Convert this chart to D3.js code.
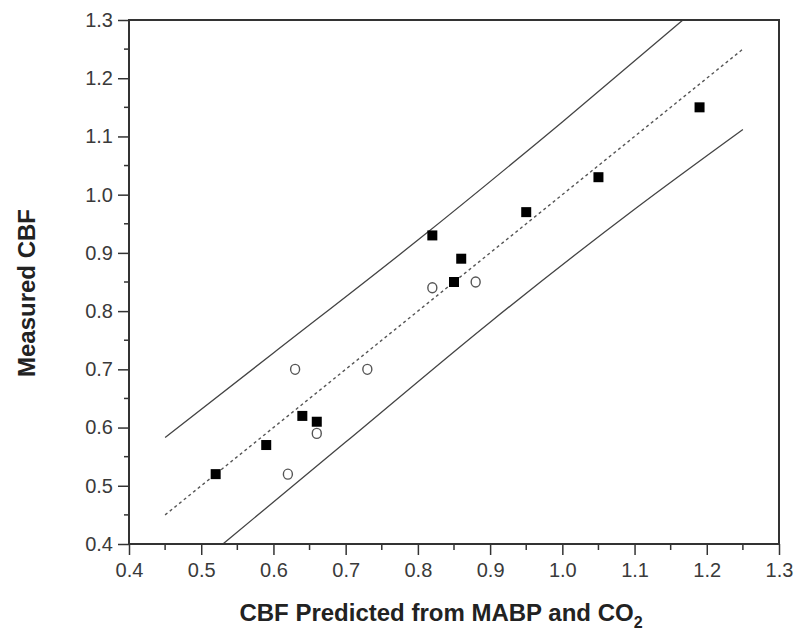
<!DOCTYPE html>
<html>
<head>
<meta charset="utf-8">
<script src="https://cdn.jsdelivr.net/npm/d3@7"></script>
<style>
  body { margin: 0; background: #fff; }
  svg text { font-family: "Liberation Sans", Arial, sans-serif; }
</style>
</head>
<body>
<svg id="chart"></svg>
<script>
// measured vs predicted CBF
const squareX = [0.52, 0.59, 0.64, 0.66, 0.82, 0.85, 0.86, 0.95, 1.05, 1.19];
const squareY = [0.52, 0.57, 0.62, 0.61, 0.93, 0.85, 0.89, 0.97, 1.03, 1.15];
const circleX = [0.62, 0.63, 0.66, 0.73, 0.82, 0.88];
const circleY = [0.52, 0.70, 0.59, 0.70, 0.84, 0.85];

// line of identity and prediction limits
const fitX = [0.45, 1.25];
const fitY = [0.45, 1.25];
const upperX = [0.45, 0.60, 0.80, 1.00, 1.167];
const upperY = [0.583, 0.728, 0.922, 1.125, 1.30];
const lowerX = [0.53, 0.70, 0.90, 1.10, 1.25];
const lowerY = [0.40, 0.575, 0.781, 0.975, 1.112];

const xTicks = [0.4, 0.5, 0.6, 0.7, 0.8, 0.9, 1.0, 1.1, 1.2, 1.3];
const yTicks = [0.4, 0.5, 0.6, 0.7, 0.8, 0.9, 1.0, 1.1, 1.2, 1.3];
const minorTicks = [0.45, 0.55, 0.65, 0.75, 0.85, 0.95, 1.05, 1.15, 1.25];

const width = 797, height = 639;
const margin = { top: 20, right: 18, bottom: 95, left: 129 };

const svg = d3.select("#chart")
    .attr("width", width)
    .attr("height", height);

const x = d3.scaleLinear().domain([0.4, 1.3]).range([margin.left, width - margin.right]);
const y = d3.scaleLinear().domain([0.4, 1.3]).range([height - margin.bottom, margin.top]);

const axisColor = "#333";

// lines
const line = d3.line().x(d => x(d[0])).y(d => y(d[1]));
const smooth = d3.line().x(d => x(d[0])).y(d => y(d[1])).curve(d3.curveMonotoneX);

svg.append("path")
    .datum(d3.zip(fitX, fitY))
    .attr("d", line)
    .attr("fill", "none")
    .attr("stroke", "#555")
    .attr("stroke-width", 1.4)
    .attr("stroke-dasharray", "3,3");

svg.selectAll(".band")
    .data([d3.zip(upperX, upperY), d3.zip(lowerX, lowerY)])
    .join("path")
    .attr("class", "band")
    .attr("d", smooth)
    .attr("fill", "none")
    .attr("stroke", "#444")
    .attr("stroke-width", 1.3);

// points
svg.append("g")
    .selectAll("rect")
    .data(d3.zip(squareX, squareY))
    .join("rect")
    .attr("x", d => x(d[0]) - 5)
    .attr("y", d => y(d[1]) - 5)
    .attr("width", 10)
    .attr("height", 10)
    .attr("fill", "#000");

svg.append("g")
    .selectAll("ellipse")
    .data(d3.zip(circleX, circleY))
    .join("ellipse")
    .attr("cx", d => x(d[0]))
    .attr("cy", d => y(d[1]))
    .attr("rx", 4.5)
    .attr("ry", 5)
    .attr("fill", "none")
    .attr("stroke", "#555")
    .attr("stroke-width", 1.4);

// axes
const xAxis = svg.append("g")
    .attr("transform", `translate(0,${height - margin.bottom})`)
    .call(d3.axisBottom(x).tickValues(xTicks).tickFormat(d3.format(".1f")).tickSize(11).tickPadding(8));

xAxis.append("g")
    .selectAll("line")
    .data(minorTicks)
    .join("line")
    .attr("x1", d => x(d)).attr("x2", d => x(d))
    .attr("y1", 0).attr("y2", 6)
    .attr("stroke", axisColor)
    .attr("stroke-width", 1.5);

const yAxis = svg.append("g")
    .attr("transform", `translate(${margin.left},0)`)
    .call(d3.axisLeft(y).tickValues(yTicks).tickFormat(d3.format(".1f")).tickSize(11).tickPadding(5));

yAxis.append("g")
    .selectAll("line")
    .data(minorTicks)
    .join("line")
    .attr("y1", d => y(d)).attr("y2", d => y(d))
    .attr("x1", 0).attr("x2", -5)
    .attr("stroke", axisColor)
    .attr("stroke-width", 1.5);

[xAxis, yAxis].forEach(a => {
    a.select(".domain").remove();
    a.selectAll(".tick line").attr("stroke", axisColor).attr("stroke-width", 1.5);
    a.selectAll(".tick text")
        .attr("fill", "#3a3a3a")
        .style("font-size", "20px");
});

// frame
svg.append("rect")
    .attr("x", margin.left)
    .attr("y", margin.top)
    .attr("width", width - margin.left - margin.right)
    .attr("height", height - margin.top - margin.bottom)
    .attr("fill", "none")
    .attr("stroke", axisColor)
    .attr("stroke-width", 2);

// titles
const xTitle = svg.append("text")
    .attr("x", 441)
    .attr("y", 621)
    .attr("text-anchor", "middle")
    .attr("fill", "#222")
    .style("font-size", "24px")
    .style("font-weight", "bold")
    .text("CBF Predicted from MABP and CO");
xTitle.append("tspan")
    .attr("dy", 7)
    .style("font-size", "16px")
    .text("2");

svg.append("text")
    .attr("transform", "translate(35,293) rotate(-90)")
    .attr("text-anchor", "middle")
    .attr("fill", "#222")
    .style("font-size", "24px")
    .style("font-weight", "bold")
    .text("Measured CBF");
</script>
</body>
</html>
